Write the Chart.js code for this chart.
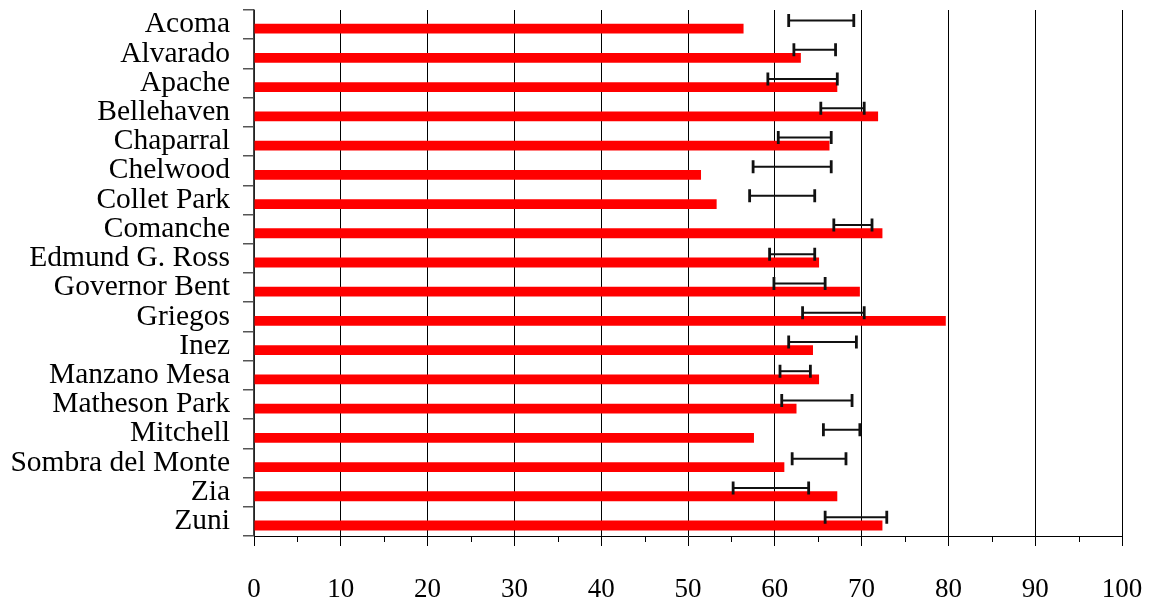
<!DOCTYPE html>
<html>
<head>
<meta charset="utf-8">
<script src="https://cdn.jsdelivr.net/npm/chart.js@4"></script>
<style>
  html, body { margin: 0; padding: 0; background: #fff; }
  #wrap { width: 1154px; height: 601px; }
</style>
</head>
<body>
<div id="wrap"><canvas id="chart"></canvas></div>
<script>
const schools = ['Acoma', 'Alvarado', 'Apache', 'Bellehaven', 'Chaparral', 'Chelwood',
  'Collet Park', 'Comanche', 'Edmund G. Ross', 'Governor Bent', 'Griegos', 'Inez',
  'Manzano Mesa', 'Matheson Park', 'Mitchell', 'Sombra del Monte', 'Zia', 'Zuni'];
const scores = [56.4, 63.0, 67.2, 71.9, 66.3, 51.5, 53.3, 72.4, 65.1, 69.8, 79.7, 64.4,
  65.1, 62.5, 57.6, 61.1, 67.2, 72.4];
const rangeLow = [61.6, 62.2, 59.2, 65.3, 60.4, 57.5, 57.1, 66.8, 59.4, 59.9, 63.2, 61.6,
  60.6, 60.8, 65.6, 62.0, 55.2, 65.8];
const rangeHigh = [69.1, 67.0, 67.2, 70.3, 66.5, 66.5, 64.6, 71.2, 64.6, 65.8, 70.3, 69.4,
  64.1, 68.9, 69.8, 68.2, 63.9, 72.9];
const xTicks = [0, 10, 20, 30, 40, 50, 60, 70, 80, 90, 100];

const serif = "'Liberation Serif', 'Times New Roman', serif";

// draws the range rows as H shaped error bars, and the short minor ticks on x
const rangePlugin = {
  id: 'rangeBars',
  afterDatasetsDraw(chart) {
    const ctx = chart.ctx;
    const x = chart.scales.x;
    const meta = chart.getDatasetMeta(0);
    ctx.save();
    ctx.strokeStyle = '#111';
    meta.data.forEach((el, i) => {
      const y = el.y;
      const x1 = x.getPixelForValue(rangeLow[i]);
      const x2 = x.getPixelForValue(rangeHigh[i]);
      ctx.lineWidth = 2;
      ctx.beginPath();
      ctx.moveTo(x1, y);
      ctx.lineTo(x2, y);
      ctx.stroke();
      ctx.lineWidth = 2.8;
      ctx.beginPath();
      ctx.moveTo(x1, y - 6.5);
      ctx.lineTo(x1, y + 6.5);
      ctx.moveTo(x2, y - 6.5);
      ctx.lineTo(x2, y + 6.5);
      ctx.stroke();
    });
    // minor ticks
    const bottom = chart.chartArea.bottom;
    ctx.lineWidth = 1;
    ctx.strokeStyle = '#000';
    for (let v = 5; v < 100; v += 10) {
      const px = Math.round(x.getPixelForValue(v)) + 0.5;
      ctx.beginPath();
      ctx.moveTo(px, bottom);
      ctx.lineTo(px, bottom + 6);
      ctx.stroke();
    }
    ctx.restore();
  }
};

new Chart(document.getElementById('chart'), {
  type: 'bar',
  data: {
    labels: schools,
    datasets: [
      {
        label: 'Range',
        data: rangeLow.map((v, i) => [v, rangeHigh[i]]),
        backgroundColor: 'rgba(0,0,0,0)',
        categoryPercentage: 0.56,
        barPercentage: 1.2
      },
      {
        label: 'Score',
        data: scores,
        backgroundColor: '#ff0000',
        categoryPercentage: 0.56,
        barPercentage: 1.2
      }
    ]
  },
  options: {
    indexAxis: 'y',
    responsive: true,
    maintainAspectRatio: false,
    animation: false,
    layout: { padding: { top: 10, right: 32, left: 0, bottom: 0 } },
    plugins: {
      legend: { display: false },
      tooltip: { enabled: false }
    },
    scales: {
      x: {
        type: 'linear',
        min: 0,
        max: 100,
        afterFit(scale) {
          scale.height = 65;
          scale.paddingLeft = 0;
          scale.paddingRight = 0;
        },
        afterBuildTicks(scale) { scale.ticks = xTicks.map(v => ({ value: v })); },
        ticks: {
          font: { family: serif, size: 27 },
          color: '#000',
          padding: 28,
          maxRotation: 0
        },
        grid: {
          color: '#000',
          lineWidth: 1,
          tickLength: 10,
          drawOnChartArea: true
        },
        border: { display: true, color: '#000', width: 1 }
      },
      y: {
        afterFit(scale) {
          scale.width = 254;
          scale.paddingTop = 0;
          scale.paddingBottom = 0;
        },
        ticks: {
          font: { family: serif, size: 29.5 },
          color: '#000',
          padding: 13,
          autoSkip: false
        },
        grid: {
          drawOnChartArea: false,
          color: '#555',
          tickLength: 11,
          lineWidth: 1.5
        },
        border: { display: true, color: '#444', width: 1.5 }
      }
    }
  },
  plugins: [rangePlugin]
});
</script>
</body>
</html>
